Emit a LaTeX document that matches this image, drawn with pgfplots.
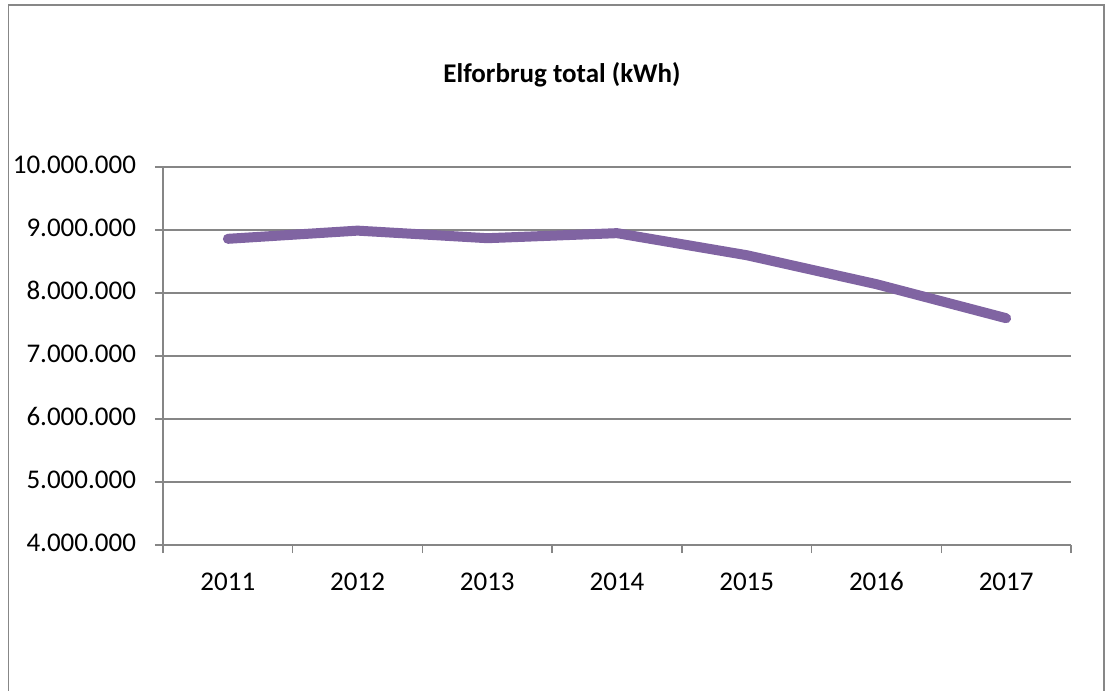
\documentclass[border=0pt]{standalone}
\usepackage{pgfplots}
\pgfplotsset{compat=1.18}
\usepackage{fontspec}
\setmainfont{Carlito}
\definecolor{linepurple}{HTML}{8064A2}
\definecolor{framegray}{HTML}{878787}
\definecolor{gridgray}{HTML}{868686}
\begin{document}
\begin{tikzpicture}
\useasboundingbox (0pt,0pt) rectangle (553pt,345pt);
\draw[framegray, line width=0.8pt] (4.25pt,-3pt) -- (4.25pt,342.5pt) -- (552pt,342.5pt) -- (552pt,-3pt);
\node[font=\fontsize{13.5}{16}\selectfont\bfseries] at (281pt,307.5pt) {Elforbrug total (kWh)};
\begin{axis}[
  at={(81.5pt,72.5pt)}, anchor=south west,
  scale only axis, width=454pt, height=189pt,
  xmin=-0.5, xmax=6.5, ymin=4000000, ymax=10000000,
  axis x line*=bottom, axis y line*=left,
  axis line style={gridgray, line width=0.65pt, -},
  xtick={0,...,6},
  xticklabels={2011,2012,2013,2014,2015,2016,2017},
  minor xtick={-0.5,0.5,...,6.5},
  ytick={4000000,5000000,...,10000000},
  major x tick style={draw=none},
  minor tick style={gridgray, line width=0.65pt},
  major tick length=4pt, minor tick length=4pt,
  tick align=outside,
  ytick style={gridgray, line width=0.65pt},
  ymajorgrids, grid style={gridgray, line width=0.65pt},
  scaled y ticks=false,
  typeset ticklabels with strut,
  yticklabel style={/pgf/number format/fixed, /pgf/number format/precision=0, /pgf/number format/1000 sep={.}, /pgf/number format/assume math mode=true, font=\fontsize{13.5}{16}\selectfont, xshift=-6pt},
  xticklabel style={font=\fontsize{13.5}{16}\selectfont, yshift=-4pt},
  clip=false,
]
\addplot[linepurple, line width=5pt, line cap=round, line join=round] coordinates {
(0,8860000) (1,8990000) (2,8870000) (3,8950000) (4,8600000) (5,8140000) (6,7600000)
};
\end{axis}
\end{tikzpicture}
\end{document}
